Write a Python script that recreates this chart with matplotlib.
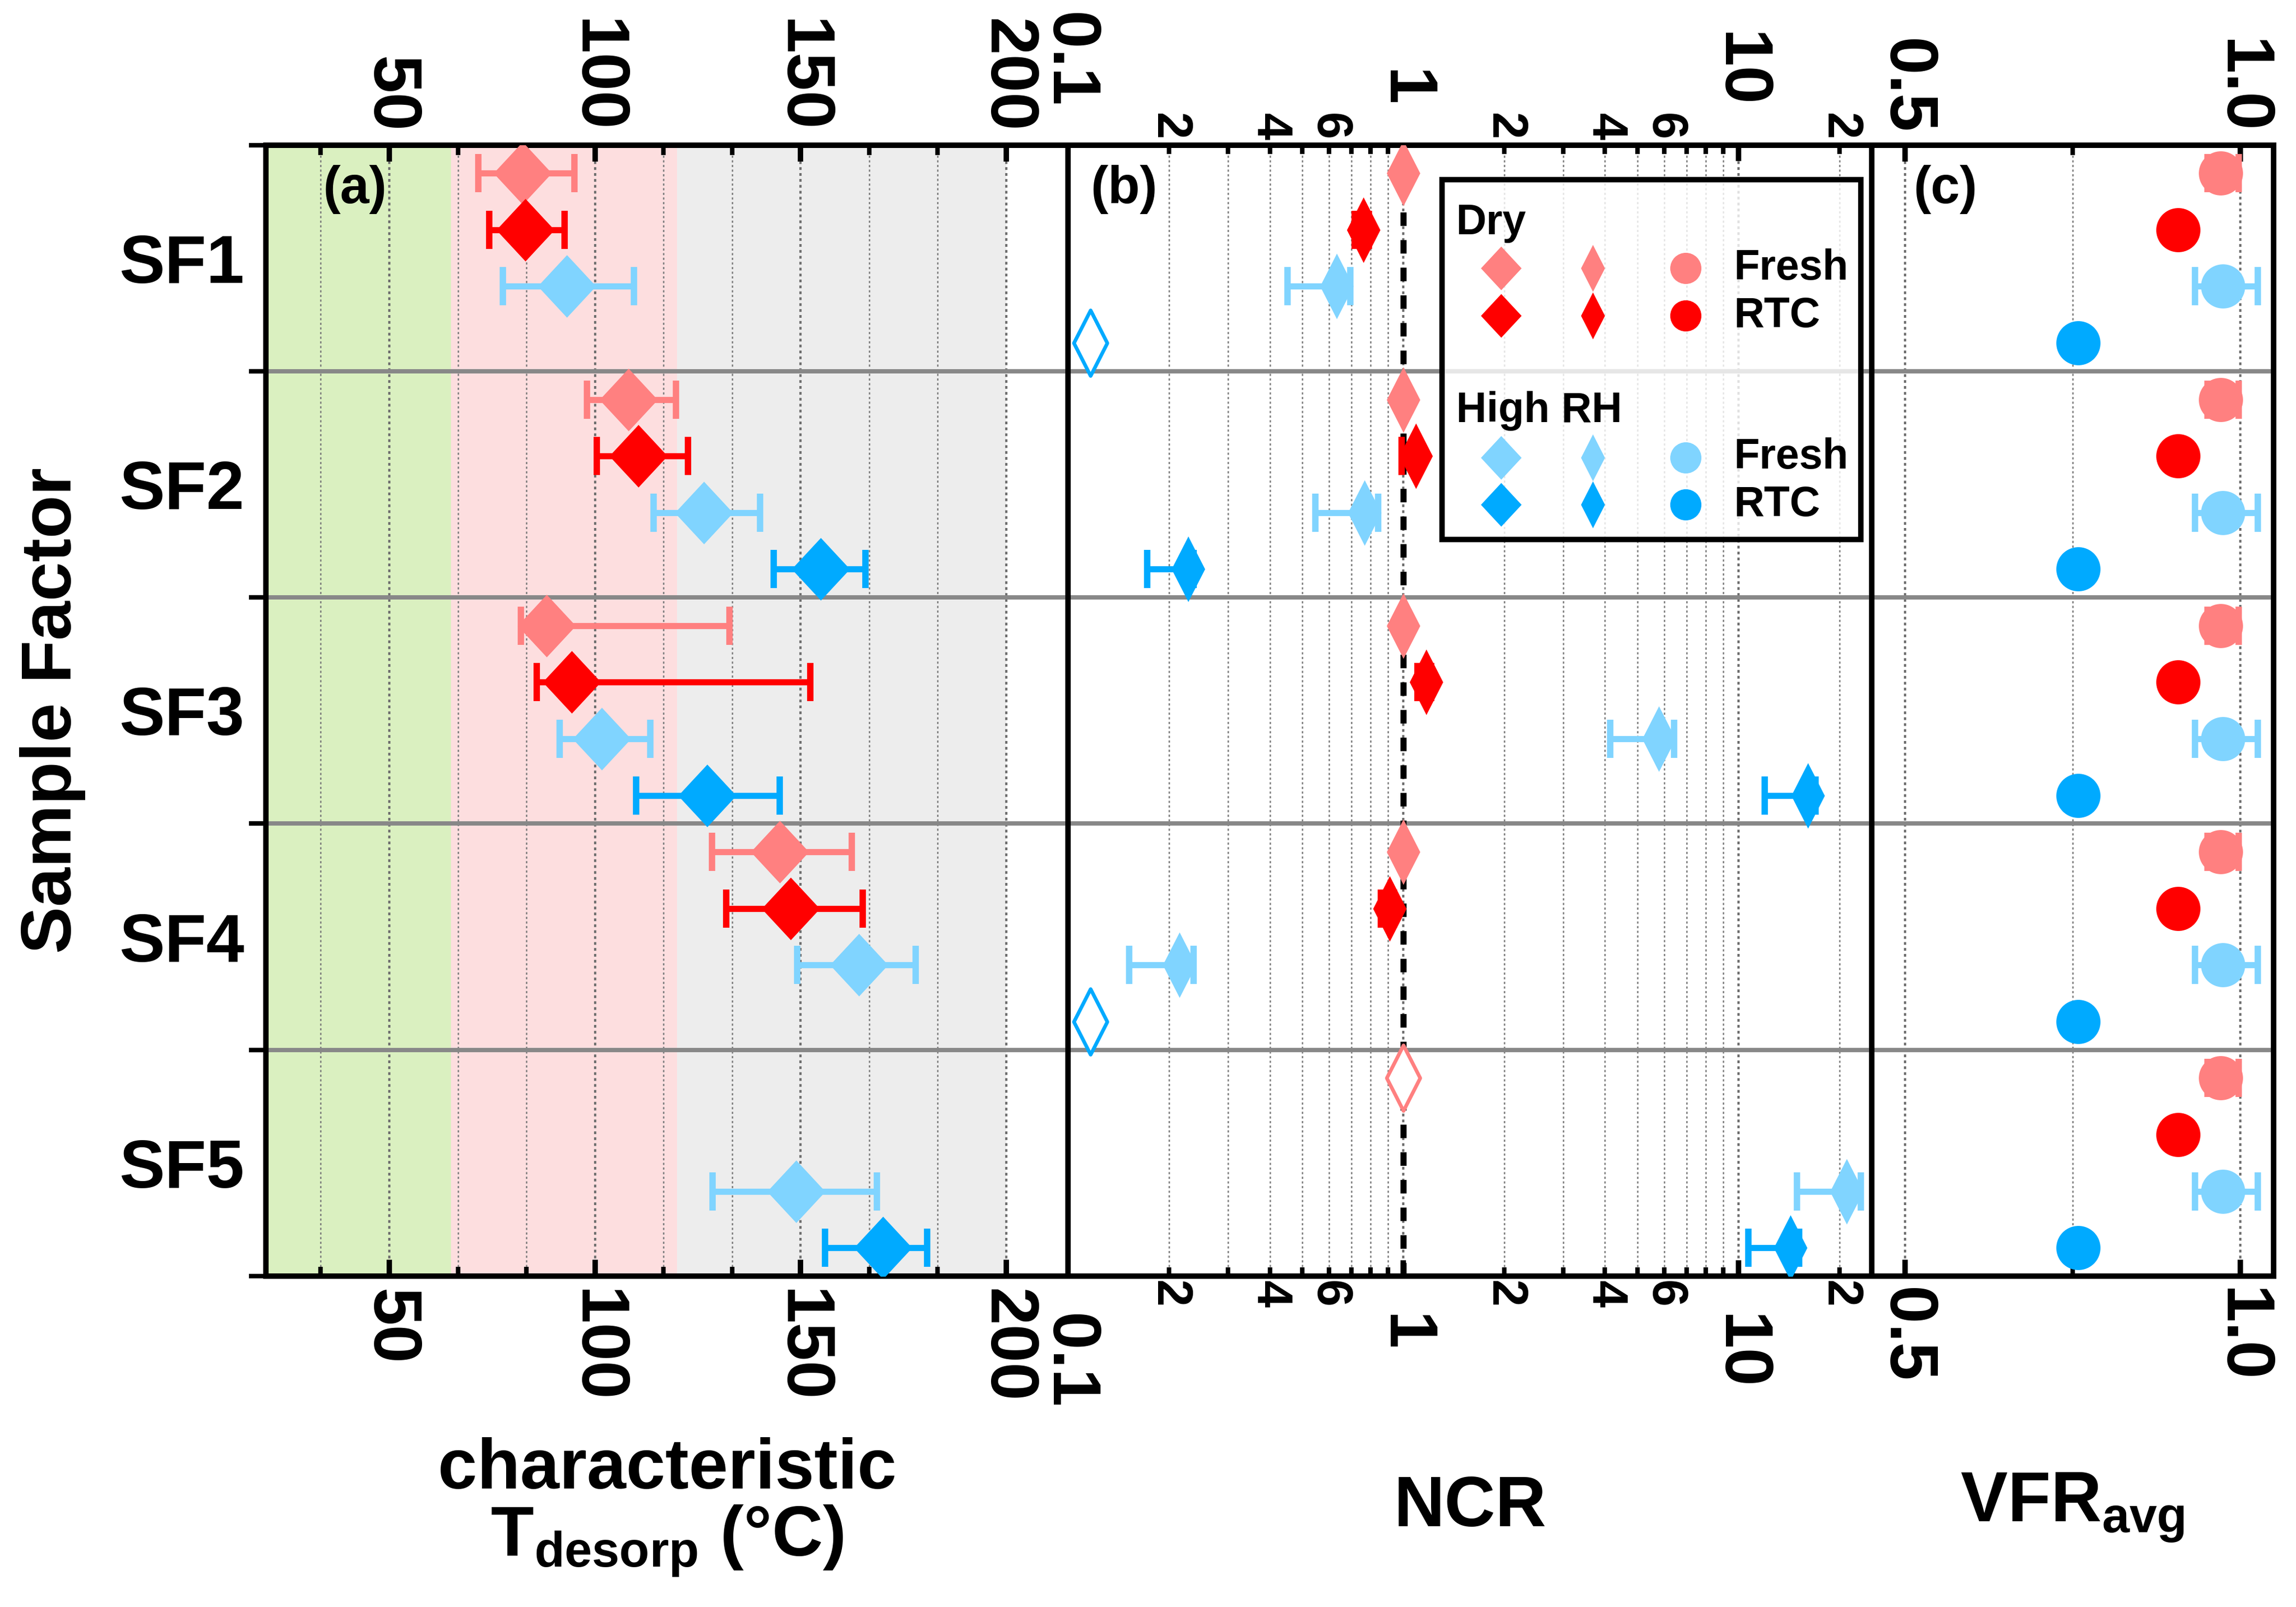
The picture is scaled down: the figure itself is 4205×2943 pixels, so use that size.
import numpy as np
import matplotlib
matplotlib.use('Agg')
import matplotlib.pyplot as plt
from matplotlib.path import Path
from matplotlib.patches import Rectangle
from matplotlib.ticker import FixedLocator, FuncFormatter, NullFormatter

plt.rcParams['font.family'] = ['Liberation Sans', 'DejaVu Sans']
plt.rcParams['font.weight'] = 'bold'
plt.rcParams['axes.labelweight'] = 'bold'
plt.rcParams['mathtext.fontset'] = 'custom'
plt.rcParams['mathtext.rm'] = 'Liberation Sans:bold'
plt.rcParams['mathtext.it'] = 'Liberation Sans:bold'
plt.rcParams['mathtext.bf'] = 'Liberation Sans:bold'

nan = np.nan

# ---------------- data ----------------
groups = ['SF1', 'SF2', 'SF3', 'SF4', 'SF5']

# (a) characteristic T_desorp (degC): value, lower and upper error-bar ends
T_dry_fresh = [82.4, 108.1, 88.2, 144.9, nan]
T_dry_fresh_lo = [71.6, 98.1, 82.0, 128.4, nan]
T_dry_fresh_hi = [95.0, 119.7, 132.7, 162.4, nan]
T_dry_rtc = [83.1, 110.5, 94.3, 147.6, nan]
T_dry_rtc_lo = [74.3, 100.5, 85.9, 131.9, nan]
T_dry_rtc_hi = [92.6, 122.6, 152.3, 165.1, nan]
T_hr_fresh = [93.1, 126.5, 101.6, 164.2, 148.9]
T_hr_fresh_lo = [77.6, 114.3, 91.4, 149.2, 128.6]
T_hr_fresh_hi = [109.5, 140.1, 113.5, 178.0, 168.5]
T_hr_rtc = [nan, 154.9, 127.2, nan, 170.0]
T_hr_rtc_lo = [nan, 143.5, 110.0, nan, 155.9]
T_hr_rtc_hi = [nan, 165.8, 144.9, nan, 180.8]

# temperature regimes shaded in (a)
regime_edges = [20, 65, 120, 200]
regime_colors = ['#DAF0C0', '#FDDEDF', '#EDEDED']

# (b) NCR
NCR_dry_fresh = [1.0, 1.0, 1.0, 1.0, 1.0]
NCR_dry_fresh_open = [False, False, False, False, True]
NCR_dry_rtc = [0.761, 1.092, 1.173, 0.912, nan]
NCR_dry_rtc_lo = [0.717, 0.99, 1.102, 0.859, nan]
NCR_dry_rtc_hi = [0.79, 1.12, 1.21, 0.94, nan]
NCR_hr_fresh = [0.632, 0.768, 5.8, 0.215, 21.0]
NCR_hr_fresh_lo = [0.451, 0.546, 4.14, 0.152, 14.95]
NCR_hr_fresh_hi = [0.696, 0.842, 6.44, 0.237, 23.2]
NCR_hr_rtc = [0.1167, 0.228, 16.1, 0.1167, 14.3]
NCR_hr_rtc_open = [True, False, False, True, False]
NCR_hr_rtc_lo = [nan, 0.172, 11.97, nan, 10.7]
NCR_hr_rtc_hi = [nan, 0.237, 17.0, nan, 15.2]

# (c) VFR_avg
VFR_dry_fresh = [0.971, 0.971, 0.971, 0.971, 0.971]
VFR_dry_fresh_lo = [0.951, 0.951, 0.951, 0.951, 0.951]
VFR_dry_fresh_hi = [0.998, 0.998, 0.998, 0.998, 0.998]
VFR_dry_rtc = [0.907, 0.907, 0.907, 0.907, 0.907]
VFR_hr_fresh = [0.9745, 0.9745, 0.9745, 0.9745, 0.9745]
VFR_hr_fresh_lo = [0.933, 0.933, 0.933, 0.933, 0.933]
VFR_hr_fresh_hi = [1.026, 1.026, 1.026, 1.026, 1.026]
VFR_hr_rtc = [0.758, 0.758, 0.758, 0.758, 0.758]

# ---------------- style ----------------
C_DF = '#FF8080'
C_DR = '#FF0000'
C_HF = '#80D4FF'
C_HR = '#00AAFF'

BIG = Path([(0, 1), (0.93, 0), (0, -1), (-0.93, 0), (0, 1)],
           [Path.MOVETO, Path.LINETO, Path.LINETO, Path.LINETO, Path.CLOSEPOLY])
THIN = Path([(0, 1), (0.51, 0), (0, -1), (-0.51, 0), (0, 1)],
            [Path.MOVETO, Path.LINETO, Path.LINETO, Path.LINETO, Path.CLOSEPOLY])

W, H = 4205, 2943
DPI = 300
fig = plt.figure(figsize=(W / DPI, H / DPI), dpi=DPI)

top_px, bot_px = 265.5, 2337
bottom = 1 - bot_px / H
height = (bot_px - top_px) / H
ax_a = fig.add_axes([487 / W, bottom, 1469 / W, height])
ax_b = fig.add_axes([1956 / W, bottom, 1472 / W, height])
ax_c = fig.add_axes([3428 / W, bottom, 736 / W, height])

SPINE_LW = 2.4
GRID_KW_MAJ = dict(color='#6E6E6E', lw=1.0, linestyle=(0, (1.2, 1.4)))
GRID_KW_MIN = dict(color='#7A7A7A', lw=0.6, linestyle=(0, (1.6, 1.8)))
EB_KW = dict(fmt='none', elinewidth=2.7, capsize=8.5, capthick=2.8, zorder=3)

ng = len(groups)
base = np.arange(ng) * 4


def draw(ax, vals, slot, color, marker, ms, lo=None, hi=None, open_flags=None):
    v = np.array(vals, dtype=float)
    y = base + slot + 0.5
    if lo is not None:
        lo = np.array(lo, dtype=float)
        hi = np.array(hi, dtype=float)
        m = np.isfinite(v) & np.isfinite(lo)
        if m.any():
            ax.errorbar(v[m], y[m], xerr=[v[m] - lo[m], hi[m] - v[m]],
                        ecolor=color, **EB_KW)
    if open_flags is None:
        open_flags = [False] * len(v)
    of = np.array(open_flags)
    m = np.isfinite(v) & ~of
    ax.plot(v[m], y[m], linestyle='none', marker=marker, ms=ms,
            color=color, mew=0, zorder=4)
    m = np.isfinite(v) & of
    if m.any():
        ax.plot(v[m], y[m], linestyle='none', marker=marker, ms=ms,
                mfc='white', mec=color, mew=1.6, zorder=4)


for ax in (ax_a, ax_b, ax_c):
    ax.set_ylim(ng * 4, 0)
    for s in ax.spines.values():
        s.set_linewidth(SPINE_LW)
    ax.set_axisbelow(True)
    for k in range(1, ng):
        ax.axhline(4 * k, color='#888888', lw=1.9, zorder=1.5)
    ax.tick_params(axis='x', which='both', direction='in', top=True, bottom=True,
                   labeltop=True, labelbottom=True, labelrotation=-90)
    ax.tick_params(axis='x', which='major', length=7.3, width=2.4, labelsize=30)
    ax.tick_params(axis='x', which='minor', length=4.2, width=2.0)
    ax.tick_params(axis='y', which='both', right=False)
    ax.grid(axis='x', which='major', **GRID_KW_MAJ)
    ax.grid(axis='x', which='minor', **GRID_KW_MIN)

# ---- panel (a)
ax_a.set_xlim(20, 215)
for i in range(len(regime_colors)):
    ax_a.axvspan(regime_edges[i], regime_edges[i + 1], color=regime_colors[i],
                 lw=0, zorder=0.2)
ax_a.xaxis.set_major_locator(FixedLocator([50, 100, 150, 200]))
ax_a.xaxis.set_minor_locator(FixedLocator(np.arange(1, 13) * 50 / 3))
ax_a.tick_params(axis='x', which='major', pad=5.5)
draw(ax_a, T_dry_fresh, 0, C_DF, BIG, 27.5, T_dry_fresh_lo, T_dry_fresh_hi)
draw(ax_a, T_dry_rtc, 1, C_DR, BIG, 27.5, T_dry_rtc_lo, T_dry_rtc_hi)
draw(ax_a, T_hr_fresh, 2, C_HF, BIG, 27.5, T_hr_fresh_lo, T_hr_fresh_hi)
draw(ax_a, T_hr_rtc, 3, C_HR, BIG, 27.5, T_hr_rtc_lo, T_hr_rtc_hi)

ax_a.set_yticks(base + 2)
ax_a.set_yticklabels(groups)
ax_a.yaxis.set_minor_locator(FixedLocator(np.arange(0, ng * 4 + 1, 4)))
ax_a.tick_params(axis='y', which='major', length=0, pad=9.4, labelsize=30)
ax_a.tick_params(axis='y', which='minor', direction='out', length=7.5, width=2.0)

ax_a.set_ylabel('Sample Factor', fontsize=31)
ax_a.yaxis.set_label_coords(-0.2655, 0.5)
ax_a.yaxis.label.set_va('center')

ax_a.set_xlabel('characteristic\nT$_{\\mathrm{desorp}}$ (°C)', fontsize=31,
                linespacing=1.0)
ax_a.xaxis.set_label_coords(0.5, -0.205)
ax_a.xaxis.label.set_va('center')

# ---- panel (b)
ax_b.set_xscale('log')
ax_b.set_xlim(0.1, 25)
ax_b.xaxis.set_major_locator(FixedLocator([0.1, 1, 10]))
ax_b.xaxis.set_major_formatter(FuncFormatter(lambda v, p: {0.1: '0.1', 1: '1', 10: '10'}.get(round(v, 3), '')))
minor_b = [0.2, 0.3, 0.4, 0.5, 0.6, 0.7, 0.8, 0.9, 2, 3, 4, 5, 6, 7, 8, 9, 20]
ax_b.xaxis.set_minor_locator(FixedLocator(minor_b))


def _minfmt(v, p):
    d = int(round(v / 10 ** np.floor(np.log10(v) + 1e-9)))
    return str(d) if d in (2, 4, 6) else ''


ax_b.xaxis.set_minor_formatter(FuncFormatter(_minfmt))
ax_b.tick_params(axis='x', which='major', pad=16.5, length=7.0)
ax_b.tick_params(axis='x', which='minor', pad=2.0, length=3.9, labelsize=21.5)
ax_b.tick_params(axis='y', which='both', left=False, labelleft=False)
ax_b.axvline(1, color='black', lw=2.7, linestyle=(0, (2.2, 2.3)), zorder=2)

draw(ax_b, NCR_dry_fresh, 0, C_DF, THIN, 28.8, open_flags=NCR_dry_fresh_open)
draw(ax_b, NCR_dry_rtc, 1, C_DR, THIN, 28.8, NCR_dry_rtc_lo, NCR_dry_rtc_hi)
draw(ax_b, NCR_hr_fresh, 2, C_HF, THIN, 28.8, NCR_hr_fresh_lo, NCR_hr_fresh_hi)
draw(ax_b, NCR_hr_rtc, 3, C_HR, THIN, 28.8, NCR_hr_rtc_lo, NCR_hr_rtc_hi,
     open_flags=NCR_hr_rtc_open)

ax_b.set_xlabel('NCR', fontsize=31)
ax_b.xaxis.set_label_coords(0.5, -0.205)
ax_b.xaxis.label.set_va('center')

# legend (manual)
T = ax_b.transAxes
ax_b.add_patch(Rectangle((0.4654, 0.6512), 0.521, 0.3181, transform=T,
                         facecolor=(1, 1, 1, 0.8), edgecolor='black', lw=2.4,
                         zorder=5))
LFS = 18.5
ax_b.text(0.483, 0.931, 'Dry', transform=T, fontsize=LFS, ha='left', va='center', zorder=6)
ax_b.text(0.483, 0.765, 'High RH', transform=T, fontsize=LFS, ha='left', va='center', zorder=6)
leg_rows = [(0.8911, C_DF, 'Fresh'), (0.8491, C_DR, 'RTC'),
            (0.7237, C_HF, 'Fresh'), (0.6821, C_HR, 'RTC')]
for yy, col, lab in leg_rows:
    ax_b.plot([0.5387], [yy], transform=T, marker=BIG, ms=19.2, color=col,
              mew=0, linestyle='none', zorder=6, clip_on=False)
    ax_b.plot([0.6529], [yy], transform=T, marker=THIN, ms=20.6, color=col,
              mew=0, linestyle='none', zorder=6, clip_on=False)
    ax_b.plot([0.7683], [yy], transform=T, marker='o', ms=13.7, color=col,
              mew=0, linestyle='none', zorder=6, clip_on=False)
    ax_b.text(0.8288, yy, lab, transform=T, fontsize=LFS, ha='left', va='center', zorder=6)

# ---- panel (c)
ax_c.set_xlim(0.45, 1.05)
ax_c.xaxis.set_major_locator(FixedLocator([0.5, 1.0]))
ax_c.xaxis.set_major_formatter(FuncFormatter(lambda v, p: f'{v:.1f}'))
ax_c.xaxis.set_minor_locator(FixedLocator([0.75]))
ax_c.xaxis.set_minor_formatter(NullFormatter())
ax_c.tick_params(axis='x', which='major', pad=5.0)
ax_c.tick_params(axis='y', which='both', left=False, labelleft=False)

draw(ax_c, VFR_dry_fresh, 0, C_DF, 'o', 19.4, VFR_dry_fresh_lo, VFR_dry_fresh_hi)
draw(ax_c, VFR_dry_rtc, 1, C_DR, 'o', 19.4)
draw(ax_c, VFR_hr_fresh, 2, C_HF, 'o', 19.4, VFR_hr_fresh_lo, VFR_hr_fresh_hi)
draw(ax_c, VFR_hr_rtc, 3, C_HR, 'o', 19.4)

ax_c.set_xlabel('VFR$_{\\mathrm{avg}}$', fontsize=31)
ax_c.xaxis.set_label_coords(0.5, -0.205)
ax_c.xaxis.label.set_va('center')

# panel letters
for ax, xx, lab in ((ax_a, 0.111, '(a)'), (ax_b, 0.0693, '(b)'), (ax_c, 0.1834, '(c)')):
    ax.text(xx, 0.9607, lab, transform=ax.transAxes, fontsize=23,
            ha='center', va='center', zorder=6)

fig.savefig('out.png', dpi=DPI)
